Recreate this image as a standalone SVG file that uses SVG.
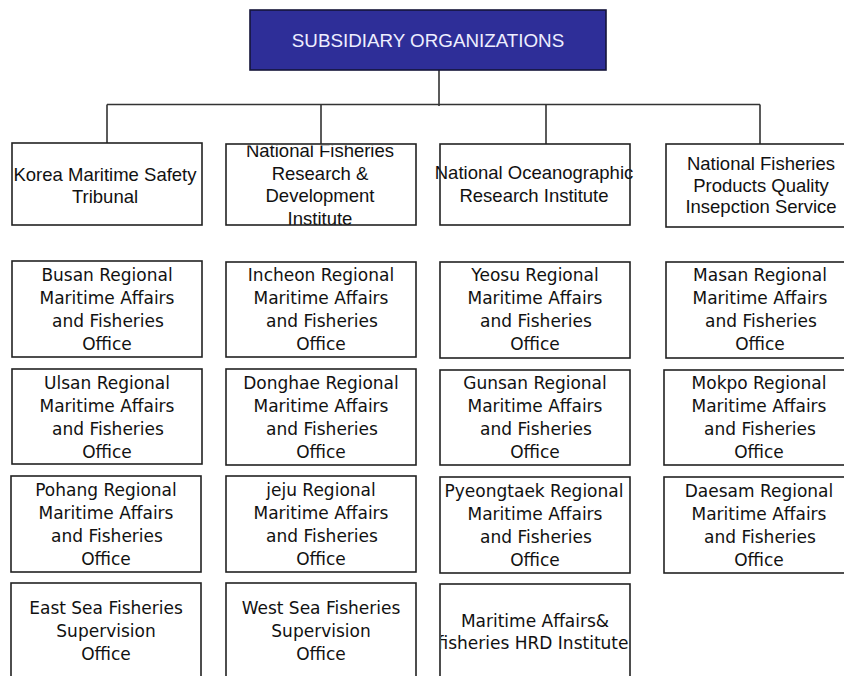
<svg xmlns="http://www.w3.org/2000/svg" width="844" height="676" viewBox="0 0 844 676">
<style>
.box{fill:none;stroke:#222;stroke-width:1.6}
.head{fill:#2e2e98;stroke:#15153a;stroke-width:1.6}
.ht{font-family:"Liberation Sans",Arial,sans-serif;font-size:18.8px;text-anchor:middle;fill:#eef}
.t1{font-family:"Liberation Sans",Arial,sans-serif;font-size:18.5px;text-anchor:middle;fill:#111}
.t2{font-family:"DejaVu Sans",sans-serif;font-size:17px;text-anchor:middle;fill:#111}
.conn{stroke:#333;stroke-width:1.6;fill:none}
</style>
<defs>
<clipPath id="c12"><rect x="226" y="145.5" width="190" height="90"/></clipPath>
<clipPath id="c53"><rect x="441" y="584" width="190" height="100"/></clipPath>
</defs>
<rect width="844" height="676" fill="#fff"/>
<g id="connectors">
<path class="conn" d="M439 70V106M107 104.5H760M107 104.5V143M321 104.5V144M546 104.5V144M760 104.5V144"/>
</g>
<g id="header">
<rect class="head" x="250" y="10" width="356" height="60"/>
<text class="ht" x="428" y="47">SUBSIDIARY ORGANIZATIONS</text>
</g>
<g id="kmst">
<text class="t1"><tspan x="105" y="181">Korea Maritime Safety</tspan><tspan x="105" y="202.5">Tribunal</tspan></text>
<rect class="box" x="12" y="143" width="190" height="82"/>
</g>
<g id="nfrdi">
<text class="t1" clip-path="url(#c12)"><tspan x="320" y="157">National Fisheries</tspan><tspan x="320" y="180">Research &amp;</tspan><tspan x="320" y="202">Development</tspan><tspan x="320" y="224.5">Institute</tspan></text>
<rect class="box" x="226" y="144" width="190" height="81"/>
</g>
<g id="nori">
<text class="t1"><tspan x="534" y="178.5">National Oceanographic</tspan><tspan x="534" y="201.5">Research Institute</tspan></text>
<rect class="box" x="440" y="144" width="190" height="81"/>
</g>
<g id="nfpqis">
<text class="t1"><tspan x="761" y="170">National Fisheries</tspan><tspan x="761" y="191.5">Products Quality</tspan><tspan x="761" y="212.5">Insepction Service</tspan></text>
<rect class="box" x="666" y="144" width="190" height="83"/>
</g>
<g id="busan">
<text class="t2"><tspan x="107" y="280.5">Busan Regional</tspan><tspan x="107" y="303.5">Maritime Affairs</tspan><tspan x="108" y="326.5">and Fisheries</tspan><tspan x="107" y="349.5">Office</tspan></text>
<rect class="box" x="12" y="261" width="190" height="96"/>
</g>
<g id="incheon">
<text class="t2"><tspan x="321" y="280.5">Incheon Regional</tspan><tspan x="321" y="303.5">Maritime Affairs</tspan><tspan x="322" y="326.5">and Fisheries</tspan><tspan x="321" y="349.5">Office</tspan></text>
<rect class="box" x="226" y="262" width="190" height="95"/>
</g>
<g id="yeosu">
<text class="t2"><tspan x="535" y="280.5">Yeosu Regional</tspan><tspan x="535" y="303.5">Maritime Affairs</tspan><tspan x="536" y="326.5">and Fisheries</tspan><tspan x="535" y="349.5">Office</tspan></text>
<rect class="box" x="440" y="262" width="190" height="96"/>
</g>
<g id="masan">
<text class="t2"><tspan x="760" y="280.5">Masan Regional</tspan><tspan x="760" y="303.5">Maritime Affairs</tspan><tspan x="761" y="326.5">and Fisheries</tspan><tspan x="760" y="349.5">Office</tspan></text>
<rect class="box" x="666" y="262" width="190" height="96"/>
</g>
<g id="ulsan">
<text class="t2"><tspan x="107" y="388.5">Ulsan Regional</tspan><tspan x="107" y="411.5">Maritime Affairs</tspan><tspan x="108" y="434.5">and Fisheries</tspan><tspan x="107" y="457.5">Office</tspan></text>
<rect class="box" x="12" y="369" width="190" height="95"/>
</g>
<g id="donghae">
<text class="t2"><tspan x="321" y="388.5">Donghae Regional</tspan><tspan x="321" y="411.5">Maritime Affairs</tspan><tspan x="322" y="434.5">and Fisheries</tspan><tspan x="321" y="457.5">Office</tspan></text>
<rect class="box" x="226" y="369" width="190" height="96"/>
</g>
<g id="gunsan">
<text class="t2"><tspan x="535" y="388.5">Gunsan Regional</tspan><tspan x="535" y="411.5">Maritime Affairs</tspan><tspan x="536" y="434.5">and Fisheries</tspan><tspan x="535" y="457.5">Office</tspan></text>
<rect class="box" x="440" y="370" width="190" height="95"/>
</g>
<g id="mokpo">
<text class="t2"><tspan x="759" y="388.5">Mokpo Regional</tspan><tspan x="759" y="411.5">Maritime Affairs</tspan><tspan x="760" y="434.5">and Fisheries</tspan><tspan x="759" y="457.5">Office</tspan></text>
<rect class="box" x="664" y="370" width="190" height="95"/>
</g>
<g id="pohang">
<text class="t2"><tspan x="106" y="496">Pohang Regional</tspan><tspan x="106" y="519">Maritime Affairs</tspan><tspan x="107" y="542">and Fisheries</tspan><tspan x="106" y="565">Office</tspan></text>
<rect class="box" x="11" y="476" width="190" height="96"/>
</g>
<g id="jeju">
<text class="t2"><tspan x="321" y="496">jeju Regional</tspan><tspan x="321" y="519">Maritime Affairs</tspan><tspan x="322" y="542">and Fisheries</tspan><tspan x="321" y="565">Office</tspan></text>
<rect class="box" x="226" y="476" width="190" height="96"/>
</g>
<g id="pyeongtaek">
<text class="t2"><tspan x="534" y="496.5">Pyeongtaek Regional</tspan><tspan x="535" y="519.5">Maritime Affairs</tspan><tspan x="536" y="542.5">and Fisheries</tspan><tspan x="535" y="565.5">Office</tspan></text>
<rect class="box" x="440" y="477" width="190" height="96"/>
</g>
<g id="daesam">
<text class="t2"><tspan x="759" y="496.5">Daesam Regional</tspan><tspan x="759" y="519.5">Maritime Affairs</tspan><tspan x="760" y="542.5">and Fisheries</tspan><tspan x="759" y="565.5">Office</tspan></text>
<rect class="box" x="664" y="477" width="190" height="96"/>
</g>
<g id="eastsea">
<text class="t2"><tspan x="106" y="614">East Sea Fisheries</tspan><tspan x="106" y="637">Supervision</tspan><tspan x="106" y="660">Office</tspan></text>
<rect class="box" x="11" y="583" width="190" height="100"/>
</g>
<g id="westsea">
<text class="t2"><tspan x="321" y="614">West Sea Fisheries</tspan><tspan x="321" y="637">Supervision</tspan><tspan x="321" y="660">Office</tspan></text>
<rect class="box" x="226" y="583" width="190" height="100"/>
</g>
<g id="hrd">
<text class="t2" clip-path="url(#c53)"><tspan x="535" y="627">Maritime Affairs&amp;</tspan><tspan x="533" y="649">fisheries HRD Institute</tspan></text>
<rect class="box" x="440" y="584" width="190" height="100"/>
</g>
</svg>
